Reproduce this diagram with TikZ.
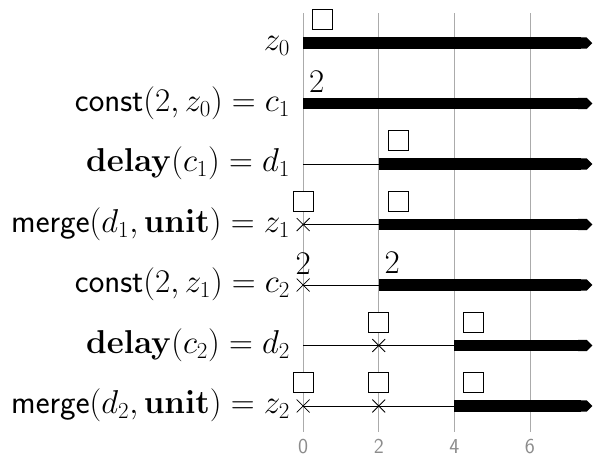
\documentclass[tikz,border=0pt]{standalone}
\usepackage{tikz}
\usetikzlibrary{arrows.meta}
\usetikzlibrary{positioning}
\usetikzlibrary{shapes.misc}
\usepackage{xcolor}
\definecolor{gridgrey}{HTML}{ABABAB}
\definecolor{tickgrey}{HTML}{8C8C8C}
\usepackage{amsmath, amssymb}

\begin{document}
\begin{tikzpicture}[
        sig/.style={anchor=base east, inner sep=0pt,
          font=\fontsize{23}{28}\selectfont},
        val/.style={inner sep=0pt, font=\fontsize{23}{28}\selectfont},
        bar/.style={line width=8.5pt, -{Triangle Cap}},
        idle/.style={line width=0.6pt},
        tok/.style={draw, fill=white, line width=0.7pt,
          minimum size=0.53cm, inner sep=0pt},
        evt/.style={cross out, draw, line width=0.6pt,
          minimum size=0.32cm, inner sep=0pt},
        gridline/.style={draw=gridgrey, line width=0.5pt},
        ticklbl/.style={text=tickgrey, font=\sffamily\fontsize{16}{18}\selectfont},
      ]
      \useasboundingbox (-8.02,1.14) rectangle (7.8,-11.06);

      % Time grid
      \foreach \t in {0,2,4,6} {
        \draw[gridline] (\t,0.79) -- (\t,-10.29);
        \node[ticklbl] (t\t) at (\t,-10.66) {\t};
      }

      % Row 0: z_0
      \node[sig] (z0) at (-0.34,-0.2) {$z_0$};
      \coordinate (z0a) at (0,0);
      \coordinate (z0e) at (7.65,0);
      \draw[bar] (z0a) -- (z0e);
      \node[tok, above right=0.34cm and 0.24cm of z0a] (z0box) {};

      % Row 1: c_1
      \node[sig] (c1) at (-0.34,-1.8) {$\mathsf{const}(2, z_0) = c_1$};
      \coordinate (c1a) at (0,-1.6);
      \coordinate (c1e) at (7.65,-1.6);
      \draw[bar] (c1a) -- (c1e);
      \node[val, above right=0.29cm and 0.15cm of c1a] (c1val) {$2$};

      % Row 2: d_1
      \node[sig] (d1) at (-0.34,-3.4) {$\mathbf{delay}(c_1) = d_1$};
      \coordinate (d1a) at (0,-3.2);
      \coordinate (d1b) at (2,-3.2);
      \coordinate (d1e) at (7.65,-3.2);
      \draw[idle] (d1a) -- (d1b);
      \draw[bar] (d1b) -- (d1e);
      \node[tok, above right=0.34cm and 0.24cm of d1b] (d1box) {};

      % Row 3: z_1
      \node[sig] (z1) at (-0.34,-5.0) {$\mathsf{merge}(d_1, \mathbf{unit}) = z_1$};
      \coordinate (z1a) at (0,-4.8);
      \coordinate (z1b) at (2,-4.8);
      \coordinate (z1e) at (7.65,-4.8);
      \draw[idle] (z1a) -- (z1b);
      \draw[bar] (z1b) -- (z1e);
      \node[evt] (z1x) at (z1a) {};
      \node[tok, above=0.34cm of z1a] (z1boxa) {};
      \node[tok, above right=0.34cm and 0.24cm of z1b] (z1boxb) {};

      % Row 4: c_2
      \node[sig] (c2) at (-0.34,-6.6) {$\mathsf{const}(2, z_1) = c_2$};
      \coordinate (c2a) at (0,-6.4);
      \coordinate (c2b) at (2,-6.4);
      \coordinate (c2e) at (7.65,-6.4);
      \draw[idle] (c2a) -- (c2b);
      \draw[bar] (c2b) -- (c2e);
      \node[evt] (c2x) at (c2a) {};
      \node[val, above=0.27cm of c2a] (c2vala) {$2$};
      \node[val, above right=0.29cm and 0.15cm of c2b] (c2valb) {$2$};

      % Row 5: d_2
      \node[sig] (d2) at (-0.34,-8.2) {$\mathbf{delay}(c_2) = d_2$};
      \coordinate (d2a) at (0,-8.0);
      \coordinate (d2b) at (2,-8.0);
      \coordinate (d2c) at (4,-8.0);
      \coordinate (d2e) at (7.65,-8.0);
      \draw[idle] (d2a) -- (d2c);
      \draw[bar] (d2c) -- (d2e);
      \node[evt] (d2x) at (d2b) {};
      \node[tok, above=0.34cm of d2b] (d2boxa) {};
      \node[tok, above right=0.34cm and 0.24cm of d2c] (d2boxb) {};

      % Row 6: z_2
      \node[sig] (z2) at (-0.34,-9.8) {$\mathsf{merge}(d_2, \mathbf{unit}) = z_2$};
      \coordinate (z2a) at (0,-9.6);
      \coordinate (z2b) at (2,-9.6);
      \coordinate (z2c) at (4,-9.6);
      \coordinate (z2e) at (7.65,-9.6);
      \draw[idle] (z2a) -- (z2c);
      \draw[bar] (z2c) -- (z2e);
      \node[evt] (z2xa) at (z2a) {};
      \node[evt] (z2xb) at (z2b) {};
      \node[tok, above=0.34cm of z2a] (z2boxa) {};
      \node[tok, above=0.34cm of z2b] (z2boxb) {};
      \node[tok, above right=0.34cm and 0.24cm of z2c] (z2boxc) {};

      \end{tikzpicture}
\end{document}
